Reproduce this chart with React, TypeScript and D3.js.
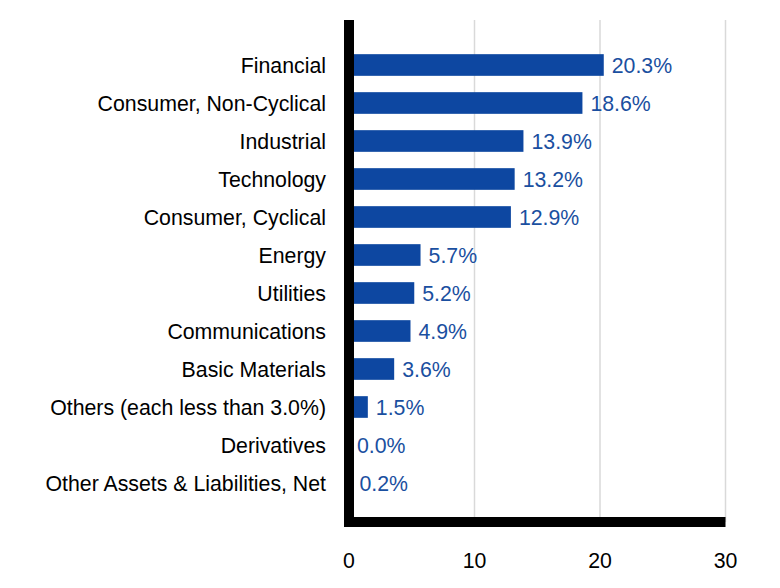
import React from "react";
import * as d3 from "d3";

const categories = [
  "Financial",
  "Consumer, Non-Cyclical",
  "Industrial",
  "Technology",
  "Consumer, Cyclical",
  "Energy",
  "Utilities",
  "Communications",
  "Basic Materials",
  "Others (each less than 3.0%)",
  "Derivatives",
  "Other Assets & Liabilities, Net",
];
const values = [20.3, 18.6, 13.9, 13.2, 12.9, 5.7, 5.2, 4.9, 3.6, 1.5, 0.0, 0.2];
const labels = ["20.3%", "18.6%", "13.9%", "13.2%", "12.9%", "5.7%", "5.2%", "4.9%", "3.6%", "1.5%", "0.0%", "0.2%"];
const ticks = [0, 10, 20, 30];

export default function App() {
  const W = 780, H = 588;
  const x = d3.scaleLinear().domain([0, 30]).range([349, 725.5]);
  const y = d3.scaleBand<string>().domain(categories).range([46, 502]).paddingInner(0.43).paddingOuter(0.215);
  const top = 20, bottom = 522;
  const font = "'Liberation Sans', Arial, sans-serif";
  const fs = 21.3;
  return (
    <svg width={W} height={H} style={{ position: "absolute", left: 0, top: 0 }} fontFamily={font}>
      <rect width={W} height={H} fill="#fff" />
      {ticks.slice(1).map((t) => (
        <line key={t} x1={x(t)} x2={x(t)} y1={top} y2={bottom} stroke="#d9d9d9" strokeWidth={1.5} />
      ))}
      {categories.map((c, i) => (
        <g key={c}>
          <rect x={x(0)} y={y(c)!} width={Math.max(0, x(values[i]) - x(0))} height={y.bandwidth()} fill="#0D47A1" />
          <text x={x(values[i]) + 8} y={y(c)! + y.bandwidth() / 2 + 1} dy="0.35em" fontSize={fs} fill="#1A4FA0">
            {labels[i]}
          </text>
          <text x={326} y={y(c)! + y.bandwidth() / 2 + 1} dy="0.35em" fontSize={fs} fill="#000" textAnchor="end">
            {c}
          </text>
        </g>
      ))}
      <line x1={x(0)} x2={x(0)} y1={top} y2={bottom + 5} stroke="#000" strokeWidth={10} />
      <line x1={x(0) - 5} x2={x(30)} y1={bottom} y2={bottom} stroke="#000" strokeWidth={10} />
      {ticks.map((t) => (
        <text key={t} x={x(t)} y={561} dy="0.35em" fontSize={fs} textAnchor="middle" fill="#000">
          {t}
        </text>
      ))}
    </svg>
  );
}
